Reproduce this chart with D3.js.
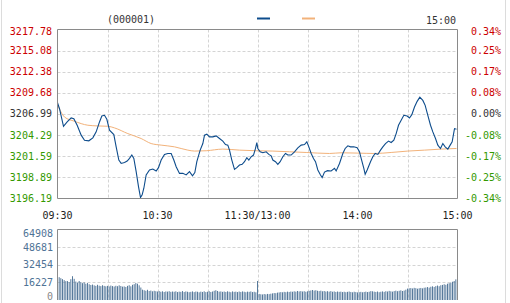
<!DOCTYPE html>
<html>
<head>
<meta charset="utf-8">
<script src="https://cdn.jsdelivr.net/npm/d3@7"></script>
<style>
  body { margin: 0; background: #fff; }
  svg { display: block; }
  text { font-family: "DejaVu Sans Mono", monospace; font-size: 10px; }
</style>
</head>
<body>
<svg width="510" height="303"></svg>
<script>
"use strict";

// Data (minute index from 09:30, 0..240).

var Code = "(000001)";
var PrevClose = 3206.985;

var priceTicks = ["3217.78", "3215.08", "3212.38", "3209.68", "3206.99", "3204.29", "3201.59", "3198.89", "3196.19"];
var pctTicks = ["0.34%", "0.25%", "0.17%", "0.08%", "0.00%", "-0.08%", "-0.17%", "-0.25%", "-0.34%"];
var volTicks = ["64908", "48681", "32454", "16227", "0"];
var timeTicks = ["09:30", "10:30", "11:30/13:00", "14:00", "15:00"];
var timeTickMinutes = [0, 60, 120, 180, 240];

var priceMinutes = [0, 1.2, 3.6, 5.8, 8.2, 9.8, 11.8, 14.2, 16.2, 18.8, 21.2, 23.2, 25.2, 26.6, 28.2, 29.6,
    31.2, 33.8, 35.2, 36.8, 38.2, 40.2, 41.8, 43.2, 44.6, 45.8, 47.2, 48.6, 49.8, 50.8, 51.8, 53.2,
    55.2, 57.2, 59.2, 60.6, 62.2, 64.2, 66.2, 68.2, 69.8, 71.2, 73.2, 75.2, 77.2, 79.2, 79.2, 81.0,
    82.4, 83.6, 85.6, 87.2, 88.2, 89.6, 91.2, 93.2, 95.2, 97.2, 99.2, 100.8, 102.2, 103.2, 104.6, 106.2,
    107.6, 109.2, 110.8, 112.2, 113.6, 114.8, 116.2, 117.6, 118.8, 119.6, 120.2, 121.6, 123.2, 125.2, 126.8, 128.2,
    129.2, 130.8, 132.2, 133.6, 135.2, 136.8, 138.2, 140.2, 142.2, 144.2, 146.2, 148.2, 149.6, 150.8, 152.2, 153.6,
    154.8, 156.2, 157.8, 158.8, 160.2, 162.0, 164.2, 166.2, 167.2, 169.2, 171.2, 172.6, 174.2, 175.8, 177.8, 179.8,
    181.2, 182.2, 183.8, 184.6, 185.8, 187.8, 189.2, 190.6, 192.2, 193.8, 195.2, 196.8, 198.6, 200.2, 201.8, 203.2,
    204.6, 206.2, 207.8, 209.8, 211.2, 212.6, 214.2, 215.8, 217.4, 219.2, 220.6, 222.2, 223.8, 225.2, 226.8, 228.2,
    229.8, 231.2, 232.6, 234.2, 235.6, 236.8, 238.2, 239.4];
var prices = [3208.42, 3207.66, 3205.42, 3205.97, 3206.48, 3206.39, 3205.55, 3204.28, 3203.64, 3203.56, 3203.94, 3204.70, 3205.97, 3206.73, 3206.82, 3206.31,
    3204.91, 3204.36, 3202.79, 3201.10, 3200.67, 3200.80, 3200.98, 3201.31, 3201.74, 3201.31, 3199.62, 3197.71, 3196.32, 3196.66, 3197.50, 3199.20,
    3199.83, 3199.96, 3199.71, 3200.13, 3201.10, 3201.82, 3201.94, 3201.94, 3201.10, 3200.25, 3199.40, 3199.40, 3199.20, 3199.62, 3199.62, 3199.10,
    3199.50, 3200.89, 3202.37, 3203.21, 3204.28, 3204.41, 3204.06, 3204.06, 3204.19, 3203.85, 3203.52, 3203.09, 3203.01, 3202.37, 3201.10, 3199.91,
    3200.13, 3200.47, 3200.55, 3200.89, 3201.40, 3201.10, 3201.52, 3201.74, 3202.58, 3203.34, 3202.58, 3202.16, 3202.03, 3202.16, 3201.82, 3201.65,
    3201.10, 3200.89, 3200.55, 3200.89, 3201.52, 3201.94, 3201.74, 3201.74, 3202.16, 3202.67, 3203.01, 3203.09, 3203.43, 3202.79, 3201.94, 3201.31,
    3200.89, 3199.83, 3199.20, 3198.86, 3199.56, 3199.75, 3199.71, 3200.04, 3199.71, 3200.67, 3201.94, 3202.58, 3202.92, 3202.79, 3202.79, 3202.67,
    3202.16, 3201.31, 3200.04, 3199.28, 3199.83, 3200.89, 3201.52, 3201.94, 3201.82, 3202.37, 3202.79, 3203.21, 3203.52, 3203.34, 3203.64, 3204.48,
    3205.55, 3206.18, 3206.82, 3206.73, 3206.48, 3206.90, 3207.87, 3208.60, 3209.14, 3208.72, 3208.09, 3206.82, 3205.55, 3204.70, 3203.85, 3203.01,
    3202.58, 3203.21, 3202.79, 3202.50, 3203.01, 3203.43, 3205.12, 3205.04];

var avgMinutes = [0, 4.2, 10.2, 18.2, 24.2, 30.2, 34.2, 42.2, 50.2, 56.2, 62.2, 70.2, 78.2, 82.2, 89.2, 99.2,
    109.2, 119.2, 129.2, 139.2, 149.2, 163.2, 170.2, 180.2, 190.2, 200.2, 210.2, 220.2, 230.2, 239.4];
var avgPrices = [3208.20, 3206.60, 3206.06, 3205.55, 3205.46, 3205.42, 3205.21, 3204.48, 3203.85, 3203.21, 3203.01, 3202.79, 3202.37, 3202.25, 3202.29, 3202.50,
    3202.37, 3202.29, 3202.25, 3202.16, 3202.07, 3201.94, 3202.03, 3201.99, 3201.94, 3202.07, 3202.25, 3202.37, 3202.50, 3202.58];

// One bar per minute, 09:30 .. 15:00.
var volumes = [
    22200, 21000, 20100, 19200, 18300, 17400, 17400, 16500, 19200, 21900,
    19500, 17000, 16000, 17500, 16500, 15500, 16200, 15000, 15600, 14500,
    13800, 14200, 13500, 13000, 14000, 13200, 12800, 13600, 13000, 12600,
    13000, 12500, 13300, 12800, 12400, 13100, 12700, 13500, 12900, 12300,
    12500, 12000, 13000, 13600, 12600, 14000, 14600, 15600, 15000, 13500,
    11500, 9500, 9000, 8500, 9400, 8300, 8700, 8000, 8500, 8100,
    7800, 8200, 7600, 8000, 7400, 7900, 7700, 8100, 7500, 7800,
    7600, 8000, 7300, 7700, 7500, 8200, 7400, 7900, 7600, 7200,
    7500, 7900, 7300, 7800, 7600, 7100, 7700, 7400, 8000, 7300,
    7600, 8100, 7400, 7800, 8500, 9000, 8300, 7700, 7900, 7500,
    7800, 7400, 8000, 7600, 7200, 7900, 7500, 7700, 7300, 7800,
    7400, 7900, 7600, 7200, 7700, 7500, 7900, 7300, 7600, 7100,
    17500,
    5600, 5300, 5100, 5500, 5200, 5600, 5400, 5800, 6100, 6400,
    6300, 6800, 7000, 7300, 7100, 7500, 7200, 7700, 7400, 7800,
    7600, 8000, 7700, 8300, 7900, 8200, 7800, 8100, 7600, 8000,
    8400, 8800, 9200, 8700, 9000, 8500, 8200, 8600, 8000, 8300,
    7800, 8100, 7700, 8200, 7600, 7900, 7400, 7800, 7500, 7700,
    7300, 7600, 7200, 7500, 7800, 7400, 7100, 7600, 7300, 7000,
    7200, 7500, 7100, 7400, 7700, 7300, 7600, 8200, 8000, 7700,
    7400, 7800, 7200, 7600, 7900, 7500, 8100, 7800, 8400, 8000,
    7700, 8200, 8600, 8100, 8500, 8900, 8300, 8700, 9500, 10500,
    10800, 11000, 10600, 11200, 10900, 10400, 10800, 11100, 10700, 11300,
    11500, 11900, 11400, 12200, 12600, 12000, 12800, 13300, 12700, 13600,
    13900, 14500, 14000, 15000, 15500, 16000, 16800, 17500, 19000, 23000];

// Layout and styles.

var svg = d3.select("svg");

var Left = 57.5, Right = 457.5;
var PriceTop = 29.5, PriceBottom = 198.5;
var VolTop = 229.5, VolBottom = 300;

var UpColor = "#cc0000";
var DownColor = "#339900";
var FlatColor = "#333333";
var VolLabelColor = "#4f7396";
var GridColor = "#d4d4d4";
var FrameColor = "#8a8a8a";
var PriceColor = "#0d4c8c";
var AvgColor = "#f2b27a";
var BarColor = "#56799b";

var x = d3.scaleLinear().domain([0, 240]).range([Left, Right]);
var yPrice = d3.scaleLinear().domain([+priceTicks[8], +priceTicks[0]]).range([PriceBottom, PriceTop]);
var yVol = d3.scaleLinear().domain([0, +volTicks[0]]).range([VolBottom, VolTop]);

var LabelColor = function(v){
    if (Math.abs(v - PrevClose) < 0.01) return FlatColor;
    return v > PrevClose ? UpColor : DownColor;
};

// Outer frame lines (left/right).
svg.append("line").attr("x1", 1.5).attr("x2", 1.5).attr("y1", 0).attr("y2", 303)
    .style("stroke", "#dcdcdc");
svg.append("line").attr("x1", 505.5).attr("x2", 505.5).attr("y1", 0).attr("y2", 303)
    .style("stroke", "#dcdcdc");

// Header.
svg.append("text").attr("x", 131).attr("y", 23).attr("text-anchor", "middle")
    .style("fill", "#333").text(Code);
svg.append("line").attr("x1", 257).attr("x2", 270).attr("y1", 18.5).attr("y2", 18.5)
    .style("stroke", PriceColor).style("stroke-width", 2);
svg.append("line").attr("x1", 302).attr("x2", 315).attr("y1", 18.5).attr("y2", 18.5)
    .style("stroke", AvgColor).style("stroke-width", 2);
svg.append("text").attr("x", 456).attr("y", 24).attr("text-anchor", "end")
    .style("fill", "#333").text(timeTicks[4]);

// Grids.
var vMinutes = d3.range(30, 240, 30);

var DrawGrid = function(g, yTop, yBottom, yLines){
    g.selectAll("line.v").data(vMinutes).enter().append("line")
        .attr("class", "v")
        .attr("x1", function(d){ return Math.round(x(d)) + 0.5; })
        .attr("x2", function(d){ return Math.round(x(d)) + 0.5; })
        .attr("y1", yTop).attr("y2", yBottom)
        .style("stroke", GridColor).style("stroke-dasharray", "3,2");
    g.selectAll("line.h").data(yLines).enter().append("line")
        .attr("class", "h")
        .attr("x1", Left).attr("x2", Right)
        .attr("y1", function(d){ return Math.round(d) + 0.5; })
        .attr("y2", function(d){ return Math.round(d) + 0.5; })
        .style("stroke", GridColor).style("stroke-dasharray", "3,2");
};

var priceGrid = svg.append("g");
DrawGrid(priceGrid, PriceTop, PriceBottom,
    priceTicks.slice(1, 8).map(function(d){ return yPrice(+d); }));

var volGrid = svg.append("g");
DrawGrid(volGrid, VolTop, VolBottom,
    volTicks.slice(1, 4).map(function(d){ return yVol(+d); }));

// Volume bars.
svg.append("g").selectAll("rect").data(volumes).enter().append("rect")
    .attr("x", function(d, i){ return x(i) - 0.5; })
    .attr("y", function(d){ return yVol(d); })
    .attr("width", 1)
    .attr("height", function(d){ return VolBottom - yVol(d); })
    .style("fill", BarColor);

// Lines.
var avgLine = d3.line()
    .x(function(d, i){ return x(avgMinutes[i]); })
    .y(function(d){ return yPrice(d); })
    .curve(d3.curveMonotoneX);
svg.append("path").datum(avgPrices).attr("d", avgLine)
    .style("fill", "none").style("stroke", AvgColor).style("stroke-width", 1);

var priceLine = d3.line()
    .x(function(d, i){ return x(priceMinutes[i]); })
    .y(function(d){ return yPrice(d); });
svg.append("path").datum(prices).attr("d", priceLine)
    .style("fill", "none").style("stroke", PriceColor).style("stroke-width", 1.1);

// Frames.
svg.append("path")
    .attr("d", "M" + Left + "," + PriceTop + "H" + Right + "V" + PriceBottom + "H" + Left + "Z")
    .style("fill", "none").style("stroke", FrameColor);
svg.append("path")
    .attr("d", "M" + Left + "," + VolBottom + "V" + VolTop + "H" + Right + "V" + VolBottom)
    .style("fill", "none").style("stroke", FrameColor);

// Price axis labels (left) and percentage labels (right).
var ClampY = function(y, top, bottom){
    return Math.max(top + 2, Math.min(bottom, y));
};

svg.append("g").selectAll("text").data(priceTicks).enter().append("text")
    .attr("x", 52).attr("text-anchor", "end")
    .attr("y", function(d){ return ClampY(yPrice(+d), PriceTop, PriceBottom); })
    .attr("dy", "0.35em")
    .style("fill", function(d){ return LabelColor(+d); })
    .text(function(d){ return d; });

svg.append("g").selectAll("text").data(pctTicks).enter().append("text")
    .attr("x", 501).attr("text-anchor", "end")
    .attr("y", function(d, i){ return ClampY(yPrice(+priceTicks[i]), PriceTop, PriceBottom); })
    .attr("dy", "0.35em")
    .style("fill", function(d, i){ return LabelColor(+priceTicks[i]); })
    .text(function(d){ return d; });

// Time labels.
svg.append("g").selectAll("text").data(timeTicks).enter().append("text")
    .attr("x", function(d, i){ return x(timeTickMinutes[i]); })
    .attr("y", 218.5).attr("text-anchor", "middle")
    .style("fill", "#222")
    .text(function(d){ return d; });

// Volume labels.
svg.append("g").selectAll("text").data(volTicks).enter().append("text")
    .attr("x", 53).attr("text-anchor", "end")
    .attr("y", function(d){ return Math.max(VolTop + 3.5, Math.min(296, yVol(+d))); })
    .attr("dy", "0.35em")
    .style("fill", function(d){ return +d === 0 ? "#888" : VolLabelColor; })
    .text(function(d){ return d; });
</script>
</body>
</html>
